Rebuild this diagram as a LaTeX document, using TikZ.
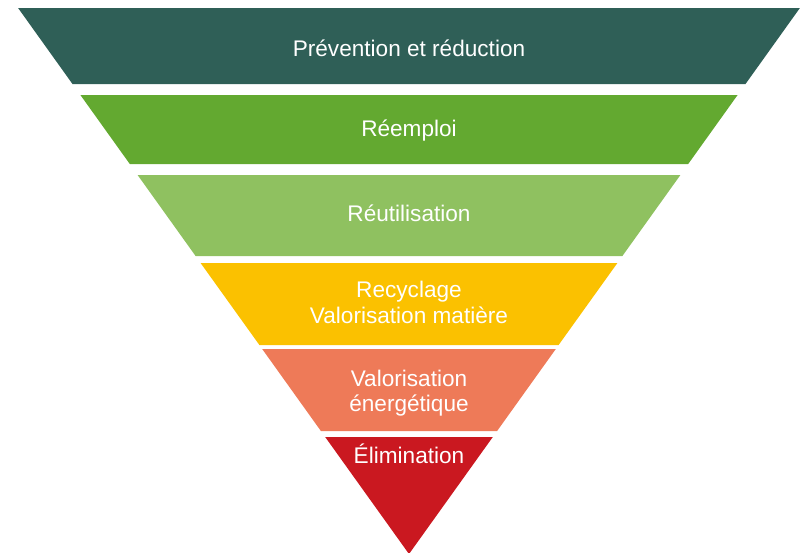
\documentclass[tikz,border=0pt]{standalone}
\usepackage{fontspec}
\setmainfont{Liberation Sans}
\definecolor{cTeal}{HTML}{2F5F57}
\definecolor{cGreen}{HTML}{63A930}
\definecolor{cLight}{HTML}{8FC160}
\definecolor{cYellow}{HTML}{FBC100}
\definecolor{cOrange}{HTML}{EE7A58}
\definecolor{cRed}{HTML}{CA1820}
\tikzset{lbl/.style={anchor=base,text=white,inner sep=0pt,font=\fontsize{22.6}{27}\selectfont}}
\begin{document}
\begin{tikzpicture}[x=1pt,y=-1pt]
\useasboundingbox (0,0) rectangle (801,552);
\fill[cTeal]   (18.1,8) -- (799.9,8) -- (745.5,84) -- (72.5,84) -- cycle;
\fill[cGreen]  (80.4,95) -- (737.6,95) -- (688.2,164) -- (129.8,164) -- cycle;
\fill[cLight]  (137.6,175) -- (680.4,175) -- (622.4,256) -- (195.6,256) -- cycle;
\fill[cYellow] (200.6,263) -- (617.4,263) -- (558.6,345) -- (259.4,345) -- cycle;
\fill[cOrange] (262.2,349) -- (555.8,349) -- (497.1,431) -- (320.9,431) -- cycle;
\fill[cRed]    (325.2,437) -- (492.8,437) -- (409,554) -- cycle;
\node[lbl] (t1) at (409,56.7) {Prévention et réduction};
\node[lbl] (t2) at (409,136) {Réemploi};
\node[lbl] (t3) at (409,221.7) {Réutilisation};
\node[lbl] (t4a) at (409,297.7) {Recyclage};
\node[lbl] (t4b) at (409,323.3) {Valorisation matière};
\node[lbl] (t5a) at (409,386) {Valorisation};
\node[lbl] (t5b) at (409,411) {énergétique};
\node[lbl] (t6) at (409,463.3) {Élimination};
\end{tikzpicture}
\end{document}
